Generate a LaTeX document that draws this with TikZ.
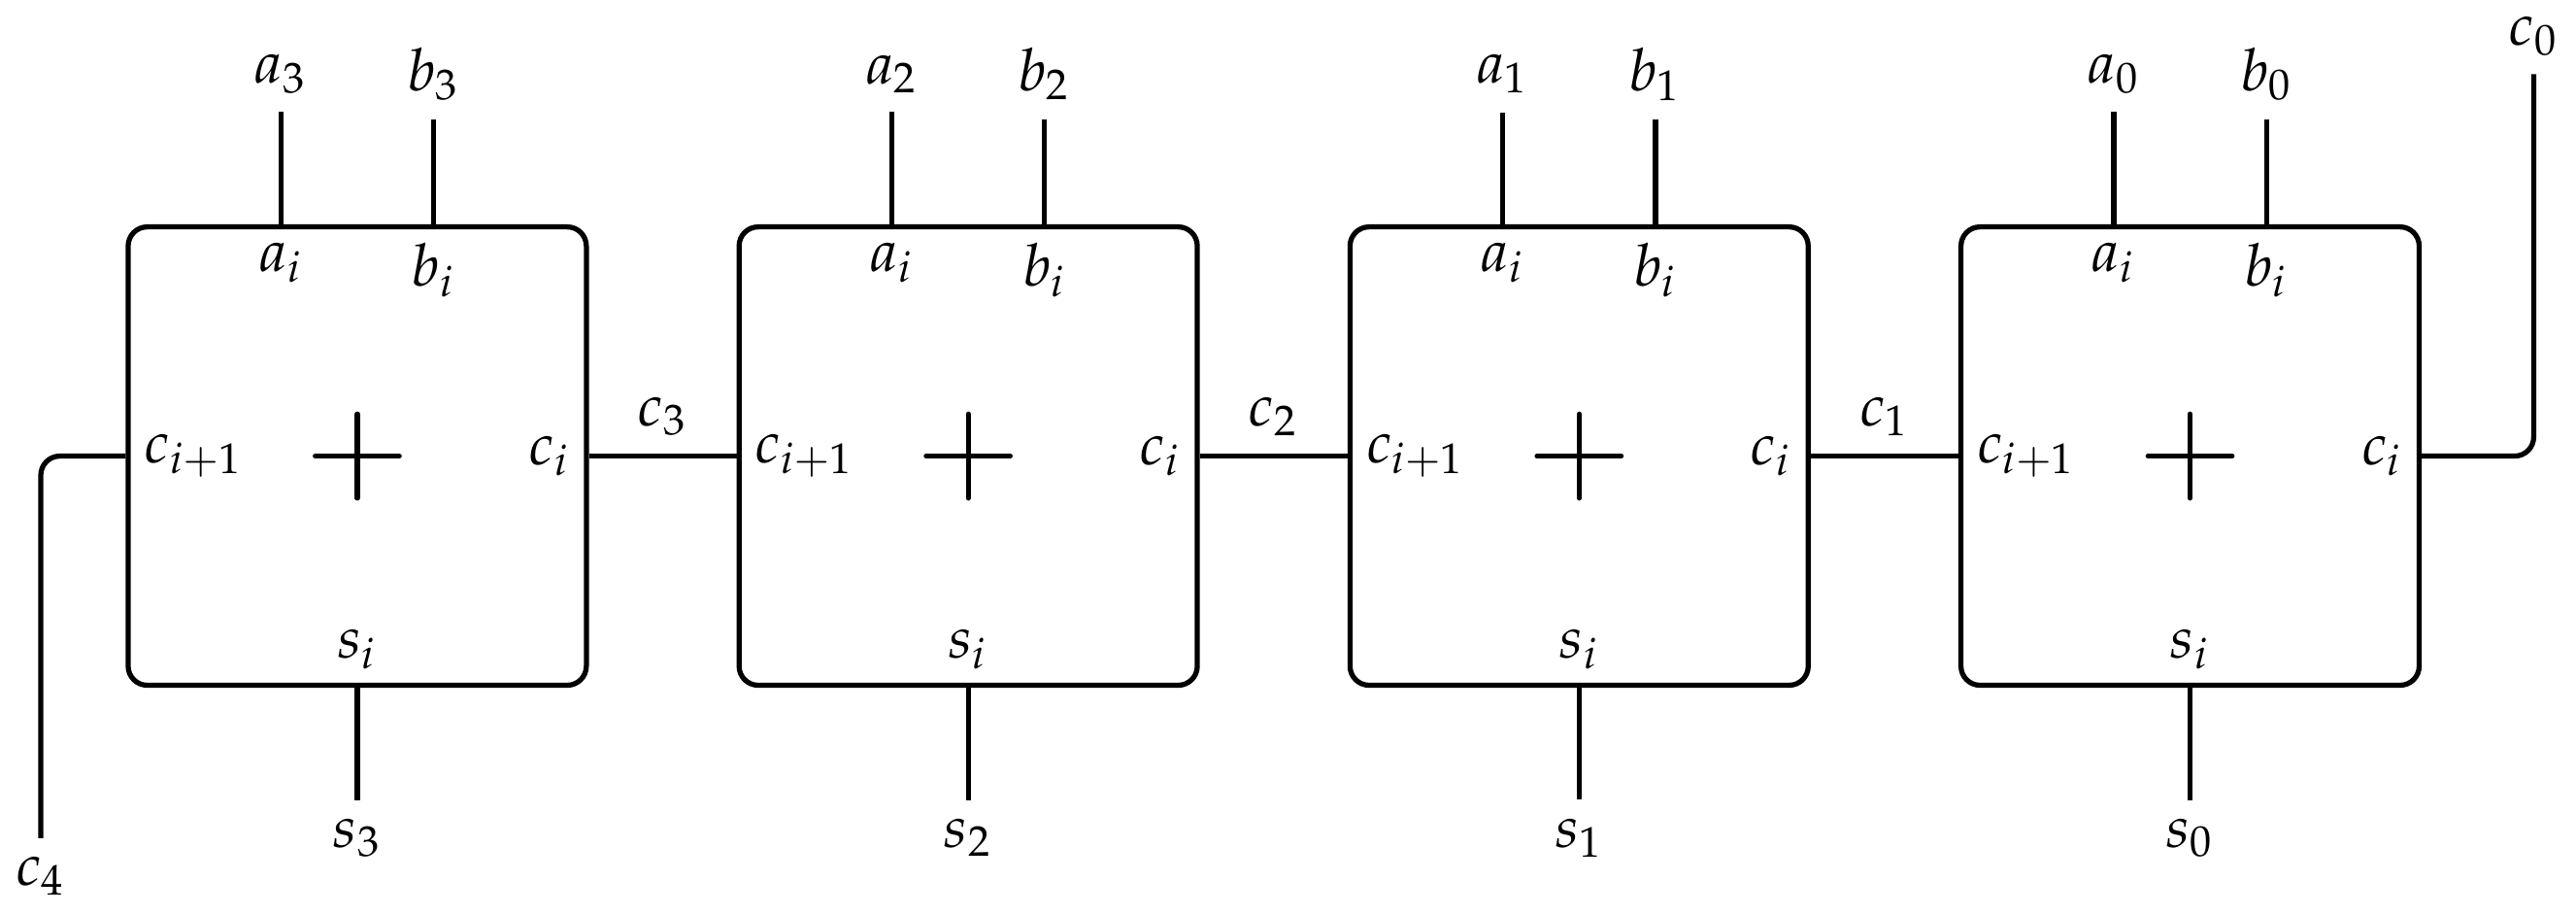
\documentclass[tikz,border=0pt]{standalone}
\usepackage{mathpazo}
\usetikzlibrary{calc}
\tikzset{
  adder/.style={draw, line width=0.95pt, rounded corners=0.125cm, minimum width=3cm, minimum height=3cm, inner sep=0pt},
  wire/.style={line width=0.95pt},
  lbl/.style={inner sep=3.33pt},
}
\begin{document}
\begin{tikzpicture}[font=\fontsize{10.95}{13.6}\selectfont]
\useasboundingbox (-0.839,-2.991) rectangle (16.027,2.985);
\foreach \k in {3,2,1,0}{
  \pgfmathsetmacro{\xl}{4*(3-\k)}
  \node[adder] (A\k) at (\xl+1.5,0) {};
  \draw[wire, line cap=round] ($(A\k.center)+(-0.275,0)$) -- ($(A\k.center)+(0.275,0)$);
  \draw[wire, line cap=round] ($(A\k.center)+(0,-0.275)$) -- ($(A\k.center)+(0,0.275)$);
  \node[lbl] (a\k) at (\xl+1,2.5) {$a_\k$};
  \node[lbl] (b\k) at (\xl+2,2.5) {$b_\k$};
  \node[lbl] (s\k) at (\xl+1.5,-2.5) {$s_\k$};
  \draw[wire] (a\k) -- (a\k |- A\k.north);
  \draw[wire] (b\k) -- (b\k |- A\k.north);
  \draw[wire] (s\k) -- (s\k |- A\k.south);
  \node[lbl, anchor=north] (ai\k) at (a\k |- A\k.north) {$a_i$};
  \node[lbl, anchor=north] (bi\k) at (b\k |- A\k.north) {$b_i$};
  \node[lbl, anchor=south] (si\k) at (A\k.south) {$s_i$};
  \node[lbl, anchor=west] (cin\k) at (A\k.west) {$c_{i+1}$};
  \node[lbl, anchor=east] (cout\k) at (A\k.east) {$c_i$};
}
\draw[wire] (A3.east) -- node[lbl, above] (c3) {$c_3$} (A2.west);
\draw[wire] (A2.east) -- node[lbl, above] (c2) {$c_2$} (A1.west);
\draw[wire] (A1.east) -- node[lbl, above] (c1) {$c_1$} (A0.west);
\node[lbl, anchor=north] (c4) at (-0.572,-2.5) {$c_4$};
\node[lbl, anchor=south] (c0) at (15.75,2.5) {$c_0$};
\draw[wire, rounded corners=0.125cm] (A3.west) -| (c4);
\draw[wire, rounded corners=0.125cm] (A0.east) -| (c0);
\end{tikzpicture}
\end{document}
